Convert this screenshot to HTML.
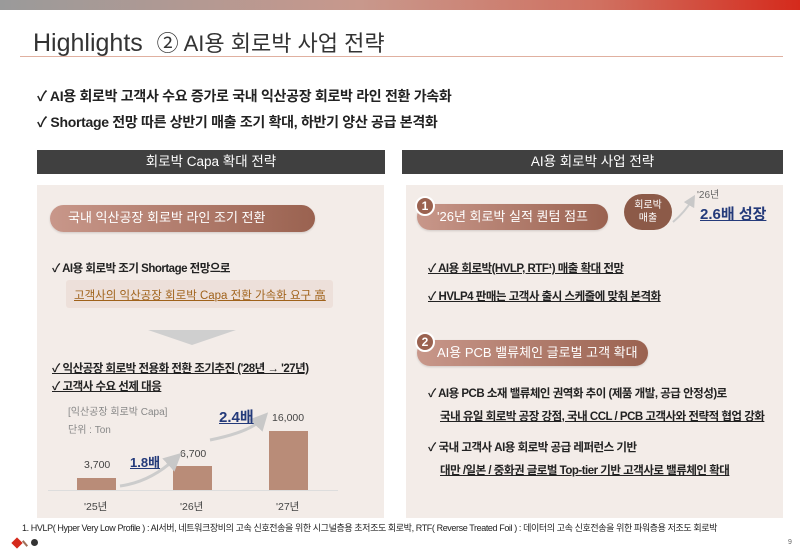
<!DOCTYPE html>
<html><head><meta charset="utf-8"><style>
*{margin:0;padding:0;box-sizing:border-box}
body{width:800px;height:549px;overflow:hidden;background:#fff;font-family:"Liberation Sans","Noto Sans CJK KR",sans-serif;position:relative;color:#222}
.a{position:absolute;white-space:nowrap}
.bar{background:#404040;color:#fff;font-size:13.5px;text-align:center;line-height:24px}
.panel{background:#f3ece8}
.pill{background:linear-gradient(90deg,#c8978a,#9a6250);color:#fff;border-radius:14px;font-size:13px;line-height:26px;box-shadow:0 1px 2px rgba(0,0,0,.15)}
.num{width:20px;height:20px;border-radius:50%;background:#9a6250;border:2px solid #fff;color:#fff;font-size:12px;font-weight:bold;text-align:center;line-height:16px}
.t{font-size:11.5px;font-weight:bold;color:#222;letter-spacing:-0.5px}
.u{text-decoration:underline}
.b{background:#b98c78}
.v{font-size:10.5px;color:#444}
</style></head><body>
<div class="a" style="left:0;top:0;width:800px;height:10px;background:linear-gradient(90deg,#9a9a9a,#c8988c 45%,#d07060 75%,#d52a1c)"></div>
<div class="a" style="left:33px;top:26px;font-size:25px;color:#333">Highlights &nbsp;<span style="font-size:22px">② AI용 회로박 사업 전략</span></div>
<div class="a" style="left:20px;top:56px;width:763px;height:1px;background:#e0b0a0"></div>
<div class="a" style="left:37px;top:86px;font-size:14px;font-weight:bold;letter-spacing:-0.3px">✓ AI용 회로박 고객사 수요 증가로 국내 익산공장 회로박 라인 전환 가속화</div>
<div class="a" style="left:37px;top:112px;font-size:14px;font-weight:bold;letter-spacing:-0.3px">✓ Shortage 전망 따른 상반기 매출 조기 확대, 하반기 양산 공급 본격화</div>
<div class="a bar" style="left:37px;top:150px;width:348px;height:24px">회로박 Capa 확대 전략</div>
<div class="a bar" style="left:402px;top:150px;width:381px;height:24px">AI용 회로박 사업 전략</div>
<div class="a panel" style="left:37px;top:185px;width:347px;height:333px"></div>
<div class="a panel" style="left:406px;top:185px;width:377px;height:333px"></div>
<!-- left -->
<div class="a pill" style="left:50px;top:205px;width:265px;height:27px;padding-left:18px">국내 익산공장 회로박 라인 조기 전환</div>
<div class="a t" style="left:52px;top:260px">✓ AI용 회로박 조기 Shortage 전망으로</div>
<div class="a" style="left:66px;top:280px;width:267px;height:28px;background:#ede0da;border-radius:3px"></div>
<div class="a u" style="left:74px;top:287px;font-size:11.5px;color:#a0621a">고객사의 익산공장 회로박 Capa 전환 가속화 요구 高</div>
<svg class="a" style="left:148px;top:330px" width="88" height="16"><polygon points="0,0 88,0 44,15" fill="#cfcfcf"/></svg>
<div class="a t u" style="left:52px;top:360px">✓ 익산공장 회로박 전용화 전환 조기추진 ('28년 → '27년)</div>
<div class="a t u" style="left:52px;top:378px">✓ 고객사 수요 선제 대응</div>
<div class="a" style="left:68px;top:403px;font-size:10px;color:#888">[익산공장 회로박 Capa]</div>
<div class="a" style="left:68px;top:421px;font-size:10px;color:#888">단위 : Ton</div>
<div class="a b" style="left:77px;top:478px;width:39px;height:12px"></div>
<div class="a b" style="left:173px;top:466px;width:39px;height:24px"></div>
<div class="a b" style="left:269px;top:431px;width:39px;height:59px"></div>
<div class="a" style="left:48px;top:490px;width:290px;height:1px;background:#ddd"></div>
<div class="a v" style="left:84px;top:459px">3,700</div>
<div class="a v" style="left:180px;top:448px">6,700</div>
<div class="a v" style="left:272px;top:412px">16,000</div>
<div class="a v" style="left:84px;top:499px">'25년</div>
<div class="a v" style="left:180px;top:499px">'26년</div>
<div class="a v" style="left:276px;top:499px">'27년</div>
<svg class="a" style="left:0;top:0" width="800" height="549">
<defs><marker id="m" markerWidth="6" markerHeight="6" refX="3" refY="3" orient="auto"><polygon points="0,0 6,3 0,6" fill="#c8c8c8"/></marker></defs>
<path d="M120,486 Q150,482 175,459" stroke="#ccc" stroke-width="3" fill="none" marker-end="url(#m)"/>
<path d="M210,440 Q250,432 262,419" stroke="#ccc" stroke-width="3" fill="none" marker-end="url(#m)"/>
<path d="M673,222 Q685,212 692,200" stroke="#ccc" stroke-width="2" fill="none" marker-end="url(#m)"/>
</svg>
<div class="a u" style="left:130px;top:452px;font-size:13px;font-weight:bold;color:#243a7a">1.8배</div>
<div class="a u" style="left:219px;top:406px;font-size:15px;font-weight:bold;color:#243a7a">2.4배</div>
<!-- right -->
<div class="a pill" style="left:417px;top:204px;width:191px;height:26px;padding-left:20px">'26년 회로박 실적 퀀텀 점프</div>
<div class="a num" style="left:415px;top:196px">1</div>
<div class="a" style="left:624px;top:194px;width:48px;height:36px;border-radius:18px;background:#8c5a48;color:#fff;font-size:10px;text-align:center;line-height:13px;padding-top:5px">회로박<br>매출</div>
<div class="a" style="left:697px;top:186px;font-size:10px;color:#666">'26년</div>
<div class="a u" style="left:700px;top:203px;font-size:15px;font-weight:bold;color:#243a7a">2.6배 성장</div>
<div class="a t u" style="left:428px;top:260px">✓ AI용 회로박(HVLP, RTF¹) 매출 확대 전망</div>
<div class="a t u" style="left:428px;top:288px">✓ HVLP4 판매는 고객사 출시 스케줄에 맞춰 본격화</div>
<div class="a pill" style="left:417px;top:340px;width:231px;height:26px;padding-left:20px">AI용 PCB 밸류체인 글로벌 고객 확대</div>
<div class="a num" style="left:415px;top:332px">2</div>
<div class="a t" style="left:428px;top:385px">✓ AI용 PCB 소재 밸류체인 권역화 추이 (제품 개발, 공급 안정성)로</div>
<div class="a t u" style="left:440px;top:408px">국내 유일 회로박 공장 강점, 국내 CCL / PCB 고객사와 전략적 협업 강화</div>
<div class="a t" style="left:428px;top:439px">✓ 국내 고객사 AI용 회로박 공급 레퍼런스 기반</div>
<div class="a t u" style="left:440px;top:462px">대만 /일본 / 중화권 글로벌 Top-tier 기반 고객사로 밸류체인 확대</div>
<!-- footer -->
<div class="a" style="left:22px;top:521px;font-size:9px;color:#222;letter-spacing:-0.4px">1. HVLP( Hyper Very Low Profile ) : AI서버, 네트워크장비의 고속 신호전송을 위한 시그널층용 초저조도 회로박, RTF( Reverse Treated Foil ) : 데이터의 고속 신호전송을 위한 파워층용 저조도 회로박</div>
<div class="a" style="left:13px;top:539px;width:8px;height:8px;background:#d52a1c;transform:rotate(45deg)"></div>
<div class="a" style="left:24px;top:540px;width:2px;height:7px;background:#a0705a;transform:rotate(-40deg)"></div>
<div class="a" style="left:31px;top:539px;width:7px;height:7px;border-radius:50%;background:#333"></div>
<div class="a" style="left:788px;top:539px;font-size:7px;color:#666">9</div>
</body></html>
